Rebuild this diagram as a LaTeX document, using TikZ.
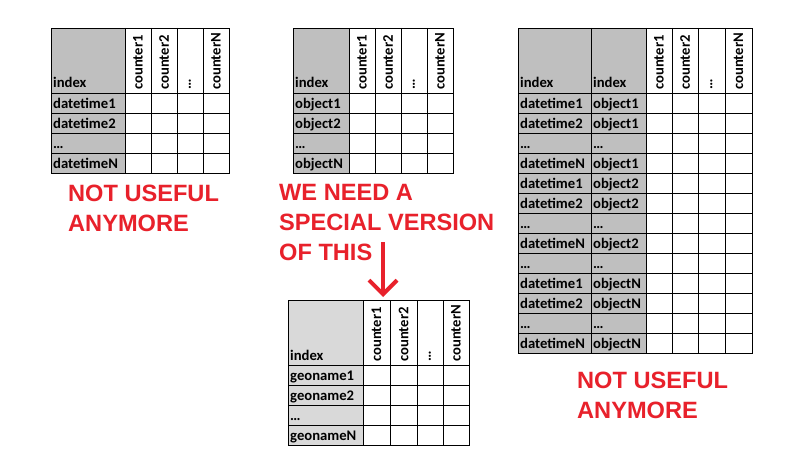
\documentclass[tikz,border=0pt]{standalone}
\usepackage{fontspec}
\setmainfont{Carlito}
\newfontfamily\redfont{Liberation Sans}
\usetikzlibrary{arrows.meta}
\definecolor{cellgrey}{HTML}{BFBFBF}
\definecolor{cellgreylight}{HTML}{D9D9D9}
\definecolor{warnred}{HTML}{E8212B}
\tikzset{
 grid line/.style={black, line width=0.9},
 celltext/.style={font=\bfseries\fontsize{14.67}{16}\selectfont, inner sep=0, anchor=base west},
 headtext/.style={font=\bfseries\fontsize{14.67}{16}\selectfont, inner sep=0, anchor=west, rotate=90},
 warn/.style={font=\redfont\bfseries\fontsize{23.6}{30}\selectfont, text=warnred, align=left, inner sep=0, anchor=north west},
 warnarrow/.style={draw=warnred, line width=4, -{Straight Barb[length=14pt,width=28pt]}}
}
\begin{document}
\begin{tikzpicture}[x=1pt,y=-1pt]
\useasboundingbox (0,0) rectangle (803,460);
\fill[white] (0,0) rectangle (803,460);

% ---------- Table 1: datetime ----------
\fill[cellgrey] (51,28) rectangle (125,173);
\foreach \x in {125,151,177,203} \draw[grid line] (\x,28) -- (\x,173);
\foreach \y in {93,113,133,153} \draw[grid line] (51,\y) -- (229,\y);
\draw[grid line] (51,28) rectangle (229,173);
\node[celltext] (t1idx) at (53,88) {index};
\foreach \t [count=\i] in {datetime1,datetime2,…,datetimeN}
  \node[celltext] (t1r\i) at (53,{88+20*\i}) {\t};
\foreach \c/\t [count=\i] in {138/counter1,164/counter2,190/…,216/counterN}
  \node[headtext] (t1c\i) at (\c,90) {\t};

% ---------- Table 2: object ----------
\fill[cellgrey] (293,28) rectangle (349,173);
\foreach \x in {349,375,401,427} \draw[grid line] (\x,28) -- (\x,173);
\foreach \y in {93,113,133,153} \draw[grid line] (293,\y) -- (453,\y);
\draw[grid line] (293,28) rectangle (453,173);
\node[celltext] (t2idx) at (295,88) {index};
\foreach \t [count=\i] in {object1,object2,…,objectN}
  \node[celltext] (t2r\i) at (295,{88+20*\i}) {\t};
\foreach \c/\t [count=\i] in {362/counter1,388/counter2,414/…,440/counterN}
  \node[headtext] (t2c\i) at (\c,90) {\t};

% ---------- Table 3: datetime x object ----------
\fill[cellgrey] (518,28) rectangle (646,353);
\foreach \x in {591,646,672,698,725} \draw[grid line] (\x,28) -- (\x,353);
\foreach \k in {0,...,12} \draw[grid line] (518,{93+20*\k}) -- (752,{93+20*\k});
\draw[grid line] (518,28) rectangle (752,353);
\node[celltext] (t3idxa) at (520,88) {index};
\node[celltext] (t3idxb) at (593,88) {index};
\foreach \a/\b [count=\i] in {datetime1/object1,datetime2/object1,…/…,datetimeN/object1,
  datetime1/object2,datetime2/object2,…/…,datetimeN/object2,…/…,
  datetime1/objectN,datetime2/objectN,…/…,datetimeN/objectN}
  {\node[celltext] (t3a\i) at (520,{88+20*\i}) {\a};
   \node[celltext] (t3b\i) at (593,{88+20*\i}) {\b};}
\foreach \c/\t [count=\i] in {659/counter1,685/counter2,711.5/…,738.5/counterN}
  \node[headtext] (t3c\i) at (\c,90) {\t};

% ---------- Table 4: geoname ----------
\fill[cellgreylight] (288,300) rectangle (363,445);
\foreach \x in {363,390,417,443} \draw[grid line] (\x,300) -- (\x,445);
\foreach \y in {365,385,405,425} \draw[grid line] (288,\y) -- (469,\y);
\draw[grid line] (288,300) rectangle (469,445);
\node[celltext] (t4idx) at (290,360) {index};
\foreach \t [count=\i] in {geoname1,geoname2,…,geonameN}
  \node[celltext] (t4r\i) at (290,{360+20*\i}) {\t};
\foreach \c/\t [count=\i] in {376.5/counter1,403.5/counter2,430/…,456/counterN}
  \node[headtext] (t4c\i) at (\c,362) {\t};

% ---------- Red annotations ----------
\node[warn] (note1) at (68,185) {NOT USEFUL\\ANYMORE};
\node[warn] (note2) at (279,184) {WE NEED A\\SPECIAL VERSION\\OF THIS};
\node[warn] (note3) at (577,372) {NOT USEFUL\\ANYMORE};
\coordinate (arrS) at (383,242);
\coordinate (arrE) at (383,297);
\draw[warnarrow] (arrS) -- (arrE);
\end{tikzpicture}
\end{document}
